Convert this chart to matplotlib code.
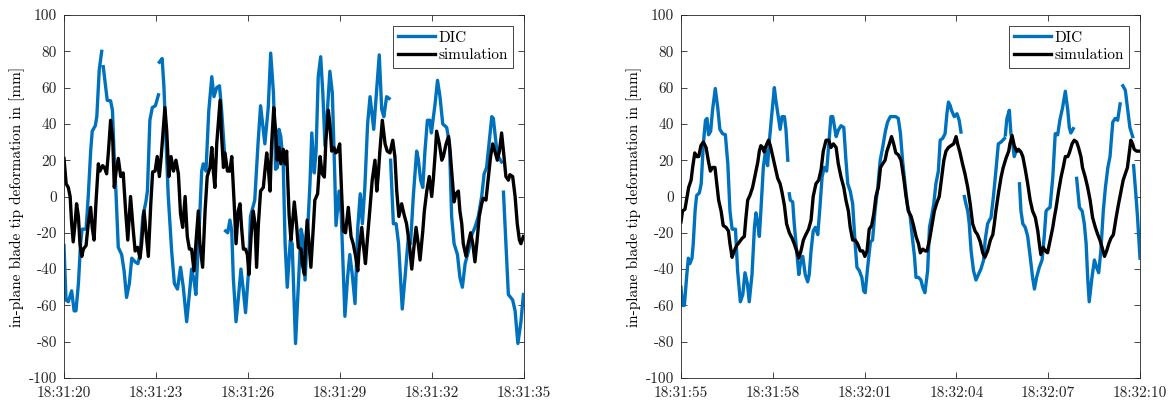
import numpy as np
import matplotlib
matplotlib.use("Agg")
import matplotlib.pyplot as plt
import matplotlib.dates as mdates
from datetime import datetime

plt.rcParams['font.family'] = 'serif'
plt.rcParams['font.serif'] = ['cmr10']
plt.rcParams['axes.unicode_minus'] = False
plt.rcParams['mathtext.fontset'] = 'cm'

nan = np.nan

# start times of both windows
start_left = datetime(2020, 1, 1, 18, 31, 20)
start_right = datetime(2020, 1, 1, 18, 31, 55)

# ---- left window: time offset [s] and deformation [mm] ----
dic_left_t = [0, 0.065, 0.14, 0.25, 0.33, 0.39, 0.47, 0.54, 0.59, 0.72, 0.79, 0.87, 0.92, 1.02, 1.07, 1.15, 1.23, nan,
              1.28, 1.37, 1.41, 1.52, 1.58, 1.63, 1.70, 1.77, 1.88, 1.96, 2.04, 2.13, 2.21, 2.32, 2.41, 2.48, 2.57, 2.67,
              2.72, 2.80, 2.88, 2.98, 3.08, nan,
              3.11, 3.20, 3.26, 3.33, 3.40, 3.51, 3.60, 3.70, 3.80, 3.89, 4.00, 4.11, 4.16, 4.24, 4.30, 4.41, 4.49, 4.54,
              4.63, 4.72, 4.82, 4.89, 4.98, 5.07, 5.14, 5.25, nan,
              5.27, 5.34, 5.41, 5.47, 5.52, 5.61, 5.68, 5.77, 5.85, 5.92, 6.01, 6.08, 6.22, 6.33, 6.41, 6.49, 6.55, 6.66,
              6.74, 6.83, 6.90, 6.96, 7.01, 7.07, 7.15, 7.21, 7.28, 7.38, 7.44, 7.55, 7.64, 7.73, 7.78, 7.86, 7.95, 8.02,
              8.08, 8.16, 8.22, 8.29, 8.37, 8.44, 8.51, 8.59, 8.67, 8.75, 8.83, 8.87, 8.97, 9.04, 9.16, 9.25, 9.32, 9.40,
              9.49, 9.58, 9.66, 9.73, 9.81, 9.90, 9.98, 10.1, 10.2, 10.28, 10.36, 10.43, 10.52, 10.6, nan,
              10.65, 10.74, 10.83, 10.91, 11.03, 11.12, 11.23, 11.30, 11.39, 11.50, 11.55, 11.63, 11.70, 11.77, 11.85,
              11.93, 11.98, 12.10, 12.18, 12.26, 12.35, 12.48, 12.57, 12.64, 12.72, 12.83, 12.91, 12.99, 13.08, 13.19,
              13.30, 13.40, 13.51, 13.62, 13.70, 13.78, 13.86, 13.95, 14.00, 14.09, 14.16, 14.27, nan,
              14.33, 14.41, 14.49, 14.63, 14.71, 14.80, 14.90, 14.98]
dic_left_v = [-27, -57, -58, -52, -63, -63, -48, -26, -18, -18, 0, 25, 36, 39, 44, 70, 80, nan,
              71.5, 58.6, 53, 52.7, 47.5, 25, 0, -28, -32, -41, -55.6, -48, -34, -36, -37, -32, -11, -3,
              3, 42, 49, 50, 56, nan,
              74, 76, 60, 29, 0, -30, -48, -51, -39, -50, -69, -50, -40, -46, -54, -17, 14, 18,
              14, 47, 66, 55, 60, 61, 47.5, 20, nan,
              -19, -20, -13, -19, -44.6, -69, -57, -40, -52, -64, -43, -11, -2, 30, 50, 38, 29, 49,
              79, 57, 15, 16, 37, 33, 17, -26, -50, -24, -26, -81, -50, -18, -22, -46, -17, 7,
              35, 13, 25, 66, 77, 57, 28, 47.5, 69, 57, 11, -16, 3, -10, -66, -44, -32, -43,
              -59, -17, 1.5, -15, 5, 40, 55, 37, 60, 78, 48, 44, 55, 54, nan,
              20, -15, -15, -26, -62, -44.6, -22, -26, 0, 25, 21, 9, 5, 25, 42,
              42, 35, 51, 64, 55, 40, 38, 29, -11, -26, -32, -44.6, -50, -37, -30,
              -21, -17, -11, 0, 12.5, 16, 29, 44, 43, 29, 22, 19, nan,
              2.4, -26, -54, -57, -63, -81, -69, -54]

sim_left_t = [0, 0.07, 0.14, 0.2, 0.25, 0.30, 0.36, 0.41, 0.47, 0.52, 0.58, 0.63, 0.72, 0.79, 0.87, 0.92, 0.98, 1.04,
              1.12, 1.17, 1.26, 1.32, 1.39, 1.45, 1.52, 1.59, 1.64, 1.70, 1.77, 1.85, 1.93, 2.01, 2.08, 2.17, 2.26,
              2.32, 2.40, 2.48, 2.53, 2.61, 2.67, 2.75, 2.83, 2.89, 2.97, 3.04, 3.11, 3.17, 3.24, 3.29, 3.35, 3.42,
              3.49, 3.57, 3.65, 3.73, 3.80, 3.87, 3.95, 4.02, 4.09, 4.16, 4.24, 4.30, 4.38, 4.43, 4.52, 4.60, 4.67,
              4.76, 4.82, 4.87, 4.92, 4.98, 5.07, 5.09, 5.14, 5.2, 5.25, 5.33, 5.41, 5.47, 5.55, 5.61, 5.68, 5.74,
              5.79, 5.85, 5.92, 5.98, 6.03, 6.10, 6.17, 6.23, 6.28, 6.34, 6.41, 6.50, 6.55, 6.61, 6.66, 6.72, 6.77,
              6.84, 6.90, 6.95, 7.01, 7.07, 7.15, 7.21, 7.26, 7.34, 7.40, 7.45, 7.51, 7.58, 7.64, 7.73, 7.77, 7.84,
              7.88, 7.93, 7.99, 8.05, 8.13, 8.18, 8.27, 8.35, 8.42, 8.49, 8.54, 8.62, 8.67, 8.73, 8.80, 8.86, 8.92,
              8.99, 9.05, 9.11, 9.18, 9.27, 9.36, 9.43, 9.51, 9.58, 9.62, 9.71, 9.77, 9.83, 9.90, 9.98, 10.05, 10.14,
              10.2, 10.25, 10.30, 10.38, 10.47, 10.54, 10.63, 10.72, 10.79, 10.85, 10.92, 11.01, 11.09, 11.17, 11.26,
              11.34, 11.41, 11.48, 11.55, 11.61, 11.70, 11.75, 11.83, 11.91, 11.99, 12.04, 12.11, 12.15, 12.24, 12.32,
              12.37, 12.46, 12.54, 12.59, 12.64, 12.72, 12.78, 12.86, 12.91, 12.97, 13.02, 13.11, 13.18, 13.26, 13.33,
              13.40, 13.46, 13.54, 13.62, 13.67, 13.76, 13.84, 13.91, 13.98, 14.05, 14.13, 14.20, 14.27, 14.33, 14.41,
              14.49, 14.54, 14.63, 14.71, 14.78, 14.85, 14.90, 14.98]
sim_left_v = [21, 7, 5, 0, -15, -25, -15, -4, -11, -26, -33, -29, -27, -15, -6, -17, -24, -4,
              18, 14, 17, 16, 12.5, 25, 42, 31, 5, 14, 21, 11, 13, -8, -24, 0, -19,
              -30, -28, -34, -26, -8, -19, -33, -4, 13.5, 14, 22, 11, 22, 38, 49, 36, 11,
              22, 14, 20, 12.5, -9.6, -17, 0, -22, -29, -29, -41, -26, -8, -26, -39, -8, 11,
              16, 27, 14, 5, 29, 49, 53, 33, 16, 24, 14, 14, 22, -4, -26, -8, -4,
              -17, -29, -29, -32, -43, -22, -8, -15, -39, -15, 3, 5, 14, 24, 16, 3, 29,
              49, 36, 20, 27, 18, 26, 18, 25, -10, -24, -15, -3, -15, -28, -29, -37, -43,
              -26, -13, -26, -39, -17, -2, 1.5, 22, 12.5, 10.7, 31, 47.5, 40, 25, 27, 24, 25,
              29, 3, -19, -20, -6, -22, -26, -33, -41, -30, -17, -28, -37, -22, -6, 9, 20,
              3, 12.5, 25, 42, 29, 25, 24, 31, 22, 3, -11, -4, -10, -15, -26,
              -40, -28, -17, -26, -35, -19, -8, 3, 11, 0, 9, 25, 36, 29, 20,
              22, 29, 33, 25, 14, -3, 1.5, 3, -8, -15, -26, -33, -26, -20, -26,
              -36, -26, -11, -4, -1, -2, 11, 22, 29, 25, 20, 25, 35, 25, 11,
              9, 12, 11, 0, -15, -24, -26, -22]

# ---- right window ----
dic_right_t = [0, 0.05, 0.11, 0.19, 0.24, 0.29, 0.36, 0.40, 0.46, 0.51, 0.60, 0.66, 0.73, 0.80, 0.85, 0.90, 0.97,
               1.03, 1.12, 1.20, 1.27, 1.36, 1.45, 1.53, 1.60, 1.67, 1.78, 1.85, 1.94, 2.02, 2.09, 2.17, 2.23, 2.32,
               2.40, 2.45, 2.51, 2.56, 2.61, 2.69, 2.76, 2.83, 2.89, 2.96, 3.05, 3.10, 3.16, 3.24, 3.30, 3.38, 3.43,
               3.49, nan,
               3.54, 3.57, 3.65, 3.70, 3.78, 3.85, 3.90, 3.98, 4.06, 4.14, 4.19, 4.25, 4.32, 4.39, 4.47, 4.54, 4.61,
               4.68, 4.76, 4.83, 4.90, 4.96, 5.07, 5.14, 5.23, 5.32, 5.39, 5.45, 5.53, 5.61, 5.69, 5.75, 5.83, 5.91,
               5.97, 6.02, 6.10, 6.19, 6.26, 6.34, 6.43, 6.51, 6.59, 6.68, 6.75, 6.84, 6.92, 7.02, 7.10, 7.17, 7.24,
               7.32, 7.41, 7.49, 7.57, 7.63, 7.68, 7.76, 7.84, 7.90, 7.97, 8.06, 8.12, 8.19, 8.26, 8.33, 8.41, 8.47,
               8.55, 8.63, 8.69, 8.74, 8.80, 8.84, 8.93, 9.02, 9.09, 9.15, nan,
               9.26, 9.31, 9.37, 9.42, 9.48, 9.56, 9.64, 9.72, 9.80, 9.89, 9.94, 10.02, 10.08, 10.13, 10.21, 10.29,
               10.37, 10.46, 10.57, nan,
               10.60, 10.65, 10.73, 10.78, 10.84, 10.89, 10.95, 11.00, nan,
               11.06, 11.11, 11.17, 11.25, 11.33, 11.41, 11.49, 11.55, 11.62, 11.71, 11.80, 11.87, 11.93, 11.98, 12.06,
               12.15, 12.23, 12.31, 12.38, 12.47, 12.56, 12.64, 12.69, 12.74, 12.82, nan,
               12.93, 13.02, 13.11, 13.18, 13.24, 13.29, 13.34, 13.43, 13.51, 13.58, 13.65, 13.72, 13.80, 13.87, 13.95,
               14.02, 14.11, 14.19, 14.27, 14.35, nan,
               14.44, 14.52, 14.60, 14.67, 14.76, nan,
               14.79, 14.87, 14.92, 15.0]
dic_right_v = [-50, -60, -60, -43, -34, -37, -34, -26, -8, 0.5, 2, 7, 29, 42, 43, 34, 36,
               47.5, 59.5, 49, 37, 34.6, 34, 18, -8, -18, -18, -41, -58, -54, -42, -48, -58, -43,
               -17, -9, -15, -22, -8, 16, 25, 17, 31, 44, 60, 53, 46, 37, 44, 44, 37,
               20, nan,
               1.5, -2, -3, -15, -30, -43, -37, -33, -43, -47, -43, -30, -19, -17, -21, -6, 10.7,
               16, 14, 29, 44, 44, 33, 36.5, 39, 38, 20, 7, 3, -4, -26, -39, -41, -44.6,
               -52, -53, -39, -25, -24, -8, 5, 20, 27, 36, 41, 44, 44, 44, 43, 35, 20,
               7, -6, -11, -24, -33, -44.6, -44.6, -46, -50, -53, -41, -17, -11, -4, 7, 14, 31,
               32, 34.6, 45.6, 52, 50, 47.5, 44, 45.6, 42, 35.5, nan,
               0, -4, -8, -15, -30, -41, -46, -43, -40, -35, -24, -15, -13, -11.6, 0, 14,
               29, 30, 32, nan,
               34, 43, 47.5, 35, 29, 22, 25, 25, nan,
               7, -8, -15, -17, -22, -33, -44.6, -51, -44.6, -39, -35, -22, -8, -7, -6,
               10.7, 34.6, 34, 42, 49, 58, 47.5, 38, 35, 37.4, nan,
               10, -6, -8, -15, -26, -44.6, -58, -44.6, -35, -39, -42, -30, -8, 5, 16,
               22, 41, 43, 42, 51, nan,
               61, 58.6, 47.5, 38, 33, nan,
               17, 0, -11.6, -34]

sim_right_t = [0, 0.05, 0.13, 0.18, 0.25, 0.33, 0.38, 0.45, 0.51, 0.58, 0.65, 0.73, 0.82, 0.89, 0.96, 1.03, 1.11,
               1.17, 1.23, 1.31, 1.38, 1.47, 1.55, 1.60, 1.67, 1.74, 1.82, 1.91, 2.0, 2.07, 2.12, 2.18, 2.25, 2.34,
               2.43, 2.51, 2.56, 2.61, 2.67, 2.72, 2.78, 2.86, 2.92, 3.0, 3.08, 3.16, 3.24, 3.30, 3.38, 3.45, 3.54,
               3.63, 3.70, 3.78, 3.85, 3.92, 4.0, 4.08, 4.17, 4.25, 4.32, 4.41, 4.50, 4.58, 4.65, 4.74, 4.83, 4.90,
               4.98, 5.07, 5.14, 5.23, 5.32, 5.39, 5.47, 5.53, 5.61, 5.69, 5.77, 5.86, 5.94, 6.01, 6.08, 6.15, 6.23,
               6.30, 6.37, 6.45, 6.52, 6.59, 6.67, 6.73, 6.81, 6.88, 6.95, 7.02, 7.10, 7.19, 7.28, 7.35, 7.43, 7.52,
               7.60, 7.68, 7.76, 7.82, 7.90, 7.98, 8.04, 8.12, 8.19, 8.28, 8.37, 8.44, 8.52, 8.59, 8.66, 8.74, 8.82,
               8.91, 8.99, 9.04, 9.12, 9.20, 9.28, 9.37, 9.45, 9.53, 9.61, 9.69, 9.78, 9.86, 9.93, 10.02, 10.11,
               10.19, 10.24, 10.29, 10.38, 10.46, 10.53, 10.62, 10.71, 10.75, 10.82, 10.89, 10.97, 11.03, 11.11, 11.17,
               11.25, 11.33, 11.41, 11.49, 11.58, 11.66, 11.71, 11.76, 11.84, 11.91, 11.98, 12.04, 12.09, 12.15, 12.20,
               12.26, 12.34, 12.42, 12.49, 12.56, 12.64, 12.69, 12.78, 12.85, 12.93, 12.99, 13.07, 13.12, 13.21, 13.29,
               13.37, 13.45, 13.54, 13.62, 13.69, 13.76, 13.84, 13.91, 13.98, 14.05, 14.13, 14.22, 14.30, 14.38, 14.45,
               14.52, 14.59, 14.65, 14.70, 14.76, 14.81, 14.89, 15.0]
sim_right_v = [-14, -8, -7, -2, 5, 9, 16, 24, 22, 22, 28, 30, 27, 20, 14, 16, 16,
               7, -2, -8, -16, -17, -19, -26, -33.5, -30, -27, -25, -23, -22, -12, -2, 0.5, 5,
               12.5, 19, 25, 28, 27, 24.5, 28, 31, 28, 22, 16, 10, 7, 2.4, -5, -15, -20,
               -23, -26, -30, -34, -30, -24, -21, -18, -13, 0, 7, 9, 15, 25, 31, 31, 27,
               29, 27, 18, 10.7, 5, -2, -8, -17, -24, -24, -26, -30, -30, -33, -30, -18, -16,
               -9.6, 0, 5, 16, 18, 20, 25, 29, 33, 29, 24, 23, 20, 10, 0.5, -8, -11,
               -16, -22, -26, -31, -29, -30, -30, -24, -17, -8, -3, 0, 10.7, 20, 25, 27, 28,
               29, 33, 29, 24, 18, 12.5, 5, -4, -15, -19, -21, -25, -31, -33.5, -30, -24,
               -21, -15, -8, 2.4, 10.7, 16, 21, 25, 29, 33.6, 28, 25, 26, 24.5, 22,
               15, 7, -2, -8, -11.6, -19, -26, -32, -28, -30, -31, -26, -22, -17, -11.6,
               -6, 3, 10.7, 16, 22, 22, 24, 29, 31, 30, 27, 22, 16, 10.7, 5,
               -2, -11.6, -17, -21, -24, -28, -33, -30, -26, -23, -21, -11.6, -4, 3, 9,
               12.5, 16, 24, 31, 29, 26, 25, 25]

yticks = np.arange(-100, 101, 20)
blue = '#0072BD'
axcol = '0.15'


def to_num(start, t):
    return mdates.date2num(start) + np.array(t, dtype=float) / 86400.0


fig = plt.figure(figsize=(11.72, 4.01), dpi=100)
ax1 = fig.add_axes([64 / 1172, 1 - 378 / 401, 460 / 1172, 363 / 401])
ax2 = fig.add_axes([681 / 1172, 1 - 378 / 401, 459 / 1172, 363 / 401])

panels = [(ax1, start_left, dic_left_t, dic_left_v, sim_left_t, sim_left_v),
          (ax2, start_right, dic_right_t, dic_right_v, sim_right_t, sim_right_v)]

for ax, start, dt, dv, st, sv in panels:
    ax.plot(to_num(start, dt), dv, color=blue, lw=2.4, label='DIC')
    ax.plot(to_num(start, st), sv, color='k', lw=2.4, label='simulation')
    ax.set_xlim(to_num(start, [0, 15]))
    ax.set_xticks(to_num(start, np.arange(0, 16, 3)))
    ax.xaxis.set_major_formatter(mdates.DateFormatter('%H:%M:%S'))
    ax.set_ylim(-100, 100)
    ax.set_yticks(yticks)
    ax.set_ylabel('in-plane blade tip deformation in [mm]', fontsize=11, color='k', labelpad=3)
    ax.tick_params(direction='in', length=4, width=0.6, top=True, right=True,
                   colors=axcol, labelcolor=axcol, labelsize=11)
    ax.tick_params(axis='x', pad=6)
    ax.tick_params(axis='y', pad=5)
    for s in ax.spines.values():
        s.set_color(axcol)
        s.set_linewidth(0.6)
    leg = ax.legend(loc='upper right', fontsize=11, fancybox=False, framealpha=1,
                    edgecolor=axcol, handlelength=2.4, borderaxespad=0.7,
                    borderpad=0.35, labelspacing=0.25, handletextpad=0.25)
    leg.get_frame().set_linewidth(0.6)

fig.savefig('out.png', dpi=100)
